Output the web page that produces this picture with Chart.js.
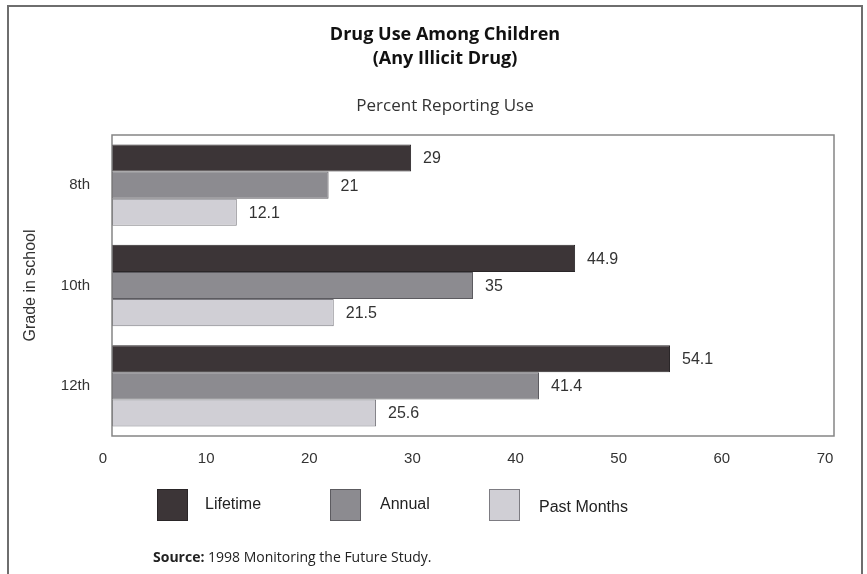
<!DOCTYPE html>
<html>
<head>
<meta charset="utf-8">
<script src="https://cdn.jsdelivr.net/npm/chart.js@4"></script>
<style>
  body { margin: 0; background: #fff; }
  canvas { display: block; }
</style>
</head>
<body>
<canvas id="chart" width="867" height="574"></canvas>
<script>
// data
var grades = ['8th', '10th', '12th'];
var seriesNames = ['Lifetime', 'Annual', 'Past Months'];
var lifetime = [29, 44.9, 54.1];
var annual = [21, 35, 41.4];
var pastMonths = [12.1, 21.5, 25.6];
var xTicks = [0, 10, 20, 30, 40, 50, 60, 70];

var fills = ['#3c3537', '#8c8b90', '#d0cfd5'];
var edges = ['#2a2628', '#5c5b60', '#7d7c82'];

var decor = {
    id: 'decor',
    beforeDraw: function(chart) {
        var ctx = chart.ctx;
        ctx.save();
        ctx.fillStyle = '#fff';
        ctx.fillRect(0, 0, chart.width, chart.height);
        ctx.restore();
    },
    afterDraw: function(chart) {
        var ctx = chart.ctx;
        var area = chart.chartArea;
        ctx.save();

        // outer frame (bottom edge runs off the page)
        ctx.strokeStyle = '#6e6e6e';
        ctx.lineWidth = 2;
        ctx.beginPath();
        ctx.moveTo(8, 580);
        ctx.lineTo(8, 6);
        ctx.lineTo(862, 6);
        ctx.lineTo(862, 580);
        ctx.stroke();

        // plot box
        ctx.strokeStyle = '#858585';
        ctx.lineWidth = 1.5;
        ctx.strokeRect(area.left, area.top, area.right - area.left, area.bottom - area.top);

        // value labels next to each bar
        ctx.fillStyle = '#333';
        ctx.font = '16px "Liberation Sans"';
        ctx.textBaseline = 'middle';
        ctx.textAlign = 'left';
        chart.data.datasets.forEach(function(ds, i) {
            var meta = chart.getDatasetMeta(i);
            meta.data.forEach(function(bar, j) {
                ctx.fillText(String(ds.data[j]), bar.x + 12, bar.y + 1);
            });
        });

        // legend
        var spots = [[157, 205], [330, 380], [489, 539]];
        chart.data.datasets.forEach(function(ds, i) {
            var bx = spots[i][0], tx = spots[i][1];
            ctx.fillStyle = ds.backgroundColor;
            ctx.fillRect(bx, 489, 30, 31);
            ctx.strokeStyle = ds.borderColor;
            ctx.lineWidth = 1;
            ctx.strokeRect(bx + 0.5, 489.5, 30, 31);
            ctx.fillStyle = '#222';
            ctx.font = '16px "Liberation Sans"';
            ctx.fillText(ds.label, tx, i == 2 ? 508 : 505);
        });

        // source line
        ctx.fillStyle = '#222';
        ctx.font = 'bold 14px "Open Sans"';
        ctx.fillText('Source:', 153, 558);
        var w = ctx.measureText('Source:').width;
        ctx.font = '14px "Open Sans"';
        ctx.fillText(' 1998 Monitoring the Future Study.', 153 + w, 558);

        ctx.restore();
    }
};

var ctx = document.getElementById('chart').getContext('2d');
var myChart = new Chart(ctx, {
    type: 'bar',
    data: {
        labels: grades,
        datasets: [
            { label: seriesNames[0], data: lifetime, backgroundColor: fills[0], borderColor: edges[0], borderWidth: 1, borderSkipped: false },
            { label: seriesNames[1], data: annual, backgroundColor: fills[1], borderColor: edges[1], borderWidth: 1, borderSkipped: false },
            { label: seriesNames[2], data: pastMonths, backgroundColor: fills[2], borderColor: edges[2], borderWidth: 1, borderSkipped: false }
        ]
    },
    options: {
        responsive: false,
        animation: false,
        indexAxis: 'y',
        categoryPercentage: 0.81,
        barPercentage: 1.0,
        layout: {
            // left/right chosen so the titles centre on x ~445 like the original
            padding: { top: 0, left: 56, right: 33, bottom: 102 }
        },
        plugins: {
            legend: { display: false },
            tooltip: { enabled: false },
            title: {
                display: true,
                text: ['Drug Use Among Children', '(Any Illicit Drug)'],
                color: '#111',
                font: { family: '"Open Sans"', size: 18, weight: 'bold', lineHeight: 24 / 18 },
                padding: { top: 23, bottom: 11 }
            },
            subtitle: {
                display: true,
                text: 'Percent Reporting Use',
                color: '#333',
                font: { family: '"Open Sans"', size: 17, lineHeight: 24 / 17 },
                padding: { top: 12, bottom: 17 }
            }
        },
        scales: {
            x: {
                min: 0,
                max: 70,
                afterBuildTicks: function(axis) {
                    axis.ticks = xTicks.map(function(v) { return { value: v }; });
                },
                afterFit: function(axis) { axis.height = 36; },
                grid: { display: false, drawTicks: false },
                border: { display: false },
                ticks: {
                    color: '#333',
                    padding: 14,
                    labelOffset: -9,
                    maxRotation: 0,
                    font: { family: '"Liberation Sans"', size: 15 }
                }
            },
            y: {
                afterFit: function(axis) { axis.width = 56; },
                grid: { display: false, drawTicks: false },
                border: { display: false },
                ticks: {
                    color: '#333',
                    padding: 22,
                    font: { family: '"Liberation Sans"', size: 15 }
                },
                title: {
                    display: true,
                    text: 'Grade in school',
                    color: '#333',
                    // pulls the title back out to the left edge of the frame
                    padding: { top: -35, bottom: 0 },
                    font: { family: '"Liberation Sans"', size: 16 }
                }
            }
        }
    },
    plugins: [decor]
});
</script>
</body>
</html>
